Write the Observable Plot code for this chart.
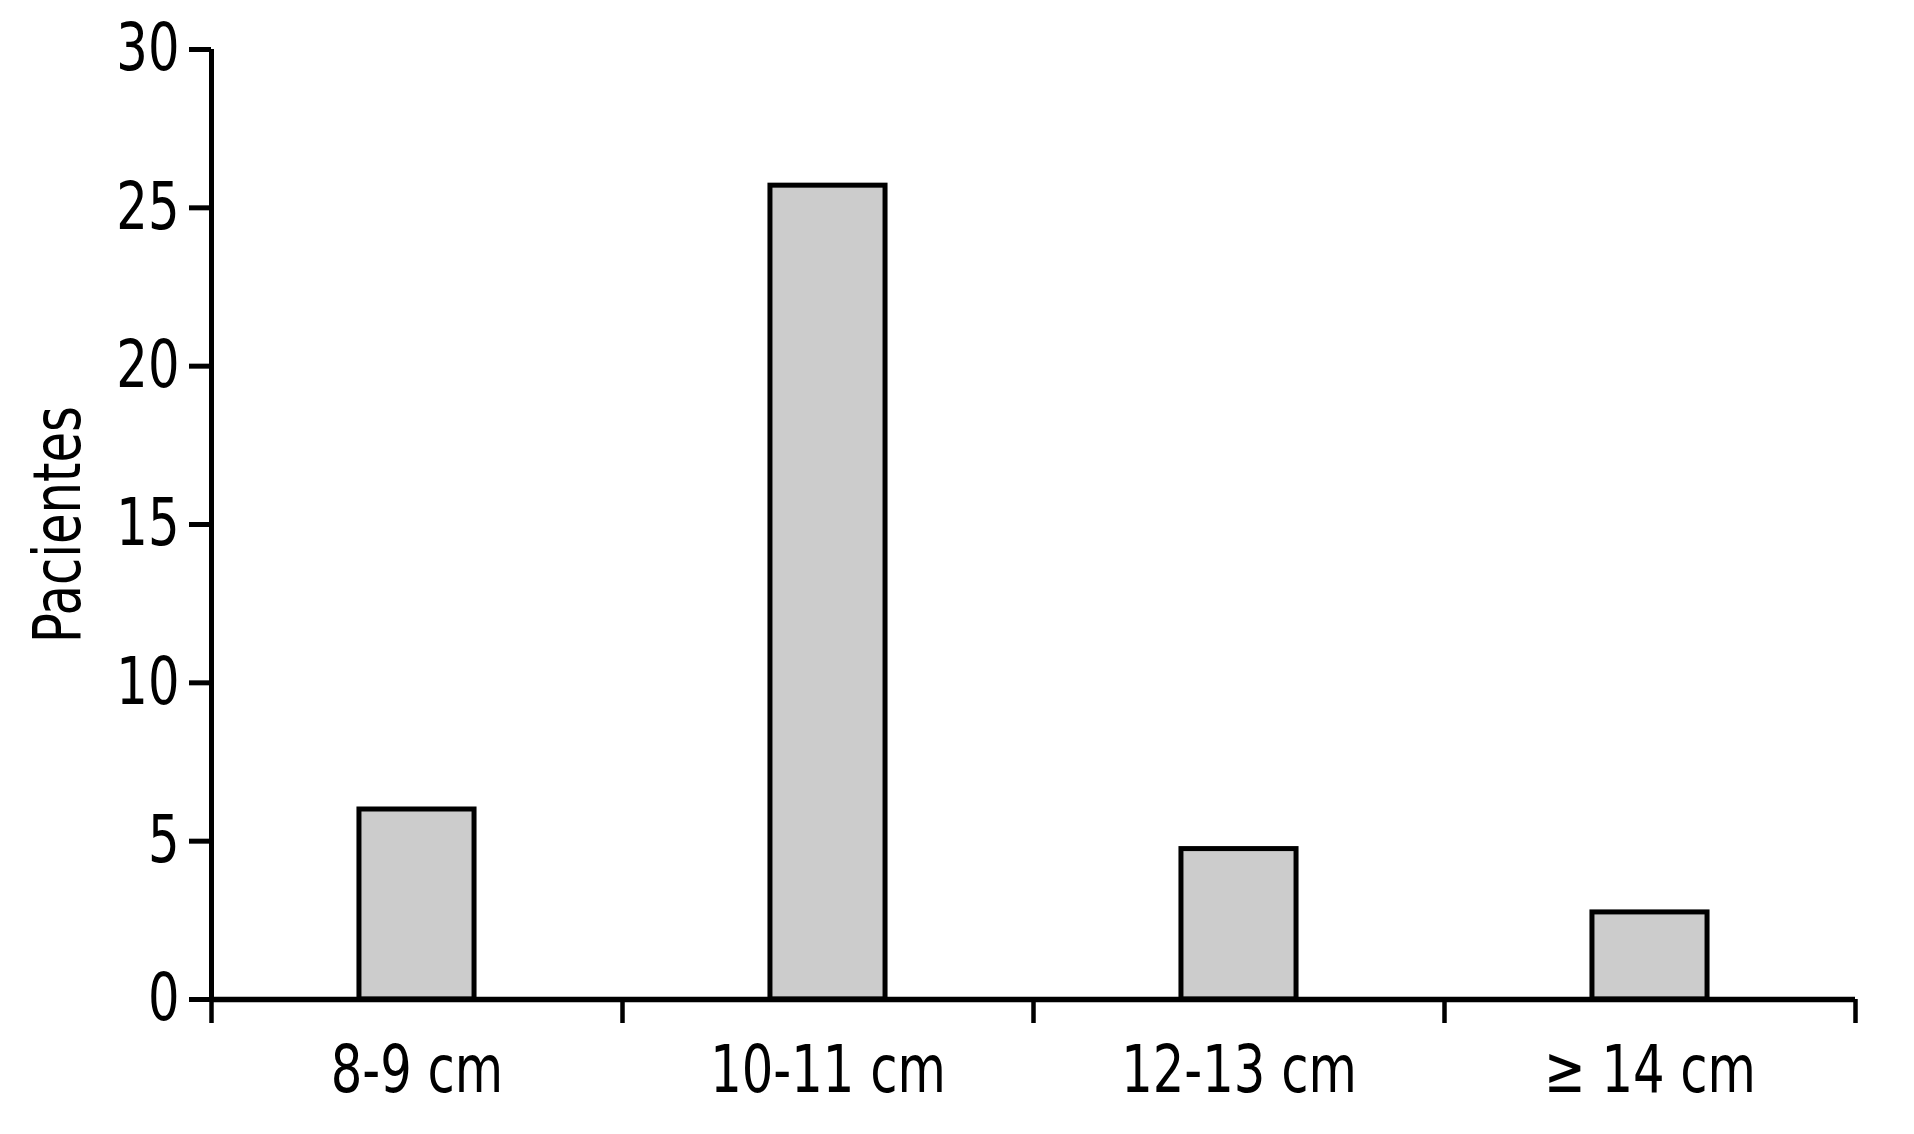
<!DOCTYPE html>
<html>
<head>
<meta charset="utf-8">
<script src="https://cdn.jsdelivr.net/npm/d3@7"></script>
<script src="https://cdn.jsdelivr.net/npm/@observablehq/plot@0.6"></script>
<style>
  html, body { margin: 0; padding: 0; background: #ffffff; }
  #chart svg { display: block; }
</style>
</head>
<body>
<div id="chart"></div>
<script>
const categories = ["8-9 cm", "10-11 cm", "12-13 cm", "\u2265 14 cm"];
const values = [6, 25.7, 4.75, 2.75];
const yTicks = [0, 5, 10, 15, 20, 25, 30];
const yLabel = "Pacientes";

const data = categories.map((c, i) => ({i, label: categories[i], value: values[i]}));
const boundaries = d3.range(categories.length + 1);
const centers = categories.map((c, i) => i + 0.5);

const fontFamily = "'Liberation Sans Narrow', 'DejaVu Sans Condensed', 'Roboto Condensed', sans-serif";

const chart = Plot.plot({
  width: 1914,
  height: 1134,
  marginLeft: 211,
  marginRight: 59,
  marginTop: 49,
  marginBottom: 135,
  style: {fontFamily, fontSize: "62px", color: "#000", background: "#fff"},
  x: {domain: [0, categories.length]},
  y: {domain: [0, 30]},
  marks: [
    Plot.rectY(data, {x1: d => d.i + 0.36, x2: d => d.i + 0.64, y1: 0, y2: "value", fill: "#cccccc", stroke: "#000", strokeWidth: 5}),
    Plot.ruleX([0], {y1: 0, y2: 30, stroke: "#000", strokeWidth: 5}),
    Plot.ruleY([0], {stroke: "#000", strokeWidth: 5.5}),
    Plot.axisY({ticks: yTicks, tickSize: 22, tickPadding: 10, fontSize: 62, strokeWidth: 5, label: yLabel, labelAnchor: "center", labelArrow: "none", labelOffset: 178}),
    Plot.axisX({ticks: boundaries, tickSize: 24, tickFormat: () => "", strokeWidth: 4.5, label: null}),
    Plot.axisX({ticks: centers, tickSize: 0, tickPadding: 46, fontSize: 62, tickFormat: (d) => categories[Math.floor(d)], label: null})
  ]
});
// condense the lettering to match the narrow typeface of the original
d3.select(chart).selectAll("text").each(function() {
  const t = this.getAttribute("transform") || "";
  this.setAttribute("transform", (t + " scale(0.89,1.05)").trim());
});
document.getElementById("chart").appendChild(chart);
</script>
</body>
</html>
